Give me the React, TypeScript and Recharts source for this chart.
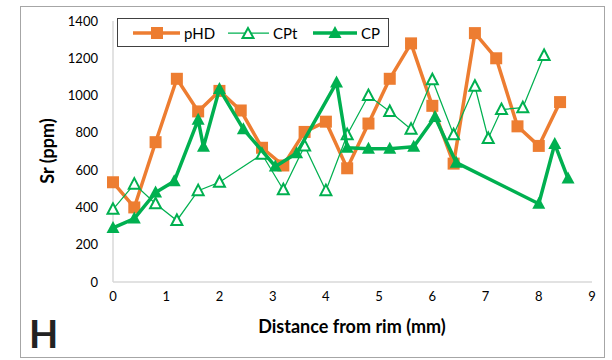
import { ScatterChart, Scatter, XAxis, YAxis, Label } from "recharts";

// pHD series (orange squares)
const phdX = [0, 0.4, 0.8, 1.2, 1.6, 2.0, 2.4, 2.8, 3.2, 3.6, 4.0, 4.4, 4.8, 5.2, 5.6, 6.0, 6.4, 6.8, 7.2, 7.6, 8.0, 8.4];
const phdY = [535, 400, 750, 1090, 915, 1025, 920, 720, 625, 805, 860, 610, 850, 1090, 1280, 945, 635, 1335, 1200, 835, 730, 965];

// CPt series (open triangles, thin line)
const cptX = [0, 0.4, 0.8, 1.2, 1.6, 2.0, 2.8, 3.2, 3.6, 4.0, 4.4, 4.8, 5.2, 5.6, 6.0, 6.4, 6.8, 7.05, 7.3, 7.7, 8.1];
const cptY = [390, 525, 420, 330, 490, 535, 685, 495, 730, 490, 790, 1000, 915, 820, 1085, 790, 1050, 770, 925, 935, 1215];

// CP series (filled triangles, thick line)
const cpX = [0, 0.4, 0.8, 1.15, 1.6, 1.7, 2.0, 2.45, 3.05, 3.45, 4.2, 4.4, 4.8, 5.2, 5.65, 6.05, 6.45, 8.0, 8.3, 8.55];
const cpY = [290, 340, 480, 540, 870, 725, 1035, 820, 620, 690, 1070, 720, 715, 715, 725, 885, 640, 420, 740, 555];

const xTicks = [0, 1, 2, 3, 4, 5, 6, 7, 8, 9];
const yTicks = [0, 200, 400, 600, 800, 1000, 1200, 1400];

const ORANGE = "#ED7D31";
const GREEN = "#00B050";
const FONT = "Lato, 'Open Sans', sans-serif";

const toPoints = (xs: number[], ys: number[]) => xs.map((x, i) => ({ x, y: ys[i] }));

const SquareShape = (props: any) => {
  const { cx, cy } = props;
  return <rect x={cx - 6} y={cy - 6} width={12} height={12} fill={ORANGE} />;
};

const FilledTriangle = (props: any) => {
  const { cx, cy } = props;
  return <polygon points={`${cx},${cy - 7} ${cx - 6.5},${cy + 5} ${cx + 6.5},${cy + 5}`} fill={GREEN} />;
};

const OpenTriangle = (props: any) => {
  const { cx, cy } = props;
  return (
    <polygon
      points={`${cx},${cy - 6} ${cx - 5.5},${cy + 4.5} ${cx + 5.5},${cy + 4.5}`}
      fill="#fff"
      stroke={GREEN}
      strokeWidth={2}
    />
  );
};

function LegendBox() {
  const item = (label: string, marker: React.ReactNode, width: number, strokeW: number, color: string) => (
    <div style={{ display: "flex", alignItems: "center" }}>
      <svg width={width} height={16}>
        <line x1={0} y1={8} x2={width} y2={8} stroke={color} strokeWidth={strokeW} />
        {marker}
      </svg>
      <span style={{ marginLeft: 4 }}>{label}</span>
    </div>
  );
  return (
    <div
      style={{
        position: "absolute",
        left: 117,
        top: 18,
        width: 270,
        height: 27,
        border: "1px solid #404040",
        background: "#fff",
        fontFamily: FONT,
        fontSize: 15,
        color: "#000",
      }}
    >
      <div style={{ position: "absolute", left: 15, top: 5 }}>
        {item("pHD", <rect x={18} y={2} width={12} height={12} fill={ORANGE} />, 47, 3.5, ORANGE)}
      </div>
      <div style={{ position: "absolute", left: 110, top: 5 }}>
        {item("CPt", <polygon points="20,3 14.5,13 25.5,13" fill="#fff" stroke={GREEN} strokeWidth={2} />, 41, 1.25, GREEN)}
      </div>
      <div style={{ position: "absolute", left: 195, top: 5 }}>
        {item("CP", <polygon points="22,1 15.5,13 28.5,13" fill={GREEN} />, 44, 3.5, GREEN)}
      </div>
    </div>
  );
}

export default function App() {
  return (
    <div style={{ position: "absolute", left: 0, top: 0, width: 612, height: 360, background: "#fff" }}>
      <div
        style={{
          position: "absolute",
          left: 20,
          top: 6,
          width: 583,
          height: 350,
          border: "1px solid #a6a6a6",
        }}
      />
      <ScatterChart width={612} height={360} margin={{ top: 21, right: 20, bottom: 48, left: 0 }}>
        <XAxis
          type="number"
          dataKey="x"
          domain={[0, 9]}
          ticks={xTicks}
          interval={0}
          axisLine={{ stroke: "#d9d9d9", strokeWidth: 1.5 }}
          tickLine={false}
          tickMargin={4}
          height={30}
          tick={{ fill: "#000", fontSize: 13, fontFamily: FONT }}
        >
          <Label
            content={() => (
              <text x={352} y={333} textAnchor="middle" fontFamily={FONT} fontWeight="bold" fontSize={18} fill="#000">
                Distance from rim (mm)
              </text>
            )}
          />
        </XAxis>
        <YAxis
          type="number"
          dataKey="y"
          domain={[0, 1400]}
          ticks={yTicks}
          interval={0}
          width={113}
          axisLine={{ stroke: "#d9d9d9", strokeWidth: 1.5 }}
          tickLine={false}
          tickMargin={9}
          tick={{ fill: "#000", fontSize: 13, fontFamily: FONT }}
        >
          <Label
            content={() => (
              <text
                x={54}
                y={151}
                transform="rotate(-90 54 151)"
                textAnchor="middle"
                fontFamily={FONT}
                fontWeight="bold"
                fontSize={18}
                fill="#000"
              >
                Sr (ppm)
              </text>
            )}
          />
        </YAxis>
        <Scatter
          name="pHD"
          data={toPoints(phdX, phdY)}
          fill={ORANGE}
          line={{ stroke: ORANGE, strokeWidth: 3.5, strokeLinejoin: "round" }}
          shape={SquareShape}
          isAnimationActive={false}
        />
        <Scatter
          name="CPt"
          data={toPoints(cptX, cptY)}
          fill={GREEN}
          line={{ stroke: GREEN, strokeWidth: 1.25 }}
          shape={OpenTriangle}
          isAnimationActive={false}
        />
        <Scatter
          name="CP"
          data={toPoints(cpX, cpY)}
          fill={GREEN}
          line={{ stroke: GREEN, strokeWidth: 3.5, strokeLinejoin: "round" }}
          shape={FilledTriangle}
          isAnimationActive={false}
        />
      </ScatterChart>
      <LegendBox />
      <div
        style={{
          position: "absolute",
          left: 29,
          top: 313,
          fontFamily: FONT,
          fontWeight: "bold",
          fontSize: 38,
          lineHeight: "40px",
          color: "#222",
        }}
      >
        H
      </div>
    </div>
  );
}
